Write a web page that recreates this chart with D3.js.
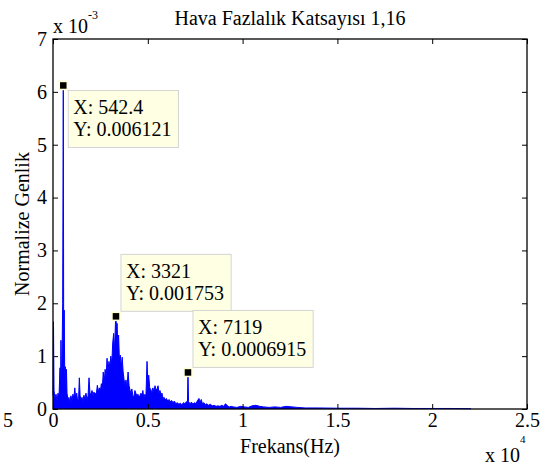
<!DOCTYPE html>
<html>
<head>
<meta charset="utf-8">
<script src="https://cdn.jsdelivr.net/npm/d3@7"></script>
<style>
  body { margin: 0; background: #fff; }
  svg text { font-family: 'Liberation Serif', 'Times New Roman', Tinos, 'DejaVu Serif', serif; }
</style>
</head>
<body>
<div id="chart"></div>
<script>
// spectrum: frequency (Hz) and amplitude (x 1e-3)
const freqHz = [
  0, 25, 55, 105, 160, 210, 265, 315, 370, 395, 420, 450, 475, 510, 542.4, 565, 590, 620, 650, 680,
  710, 740, 790, 840, 890, 945, 1000, 1050, 1100, 1150, 1200, 1250, 1300, 1350, 1390, 1430, 1480, 1530, 1580, 1630,
  1680, 1740, 1800, 1850, 1900, 1950, 2000, 2060, 2110, 2160, 2210, 2260, 2290, 2340, 2390, 2440, 2500, 2550, 2600, 2650,
  2700, 2750, 2800, 2850, 2900, 2950, 3000, 3050, 3100, 3150, 3200, 3250, 3290, 3321, 3350, 3380, 3420, 3460, 3500, 3550,
  3600, 3650, 3700, 3750, 3800, 3850, 3900, 3960, 4010, 4060, 4110, 4160, 4210, 4260, 4320, 4370, 4420, 4480, 4530, 4580,
  4640, 4690, 4740, 4790, 4850, 4900, 4960, 5000, 5050, 5100, 5160, 5210, 5270, 5320, 5380, 5430, 5490, 5540, 5590, 5640,
  5700, 5750, 5800, 5860, 5920, 5980, 6050, 6120, 6190, 6260, 6330, 6400, 6480, 6560, 6640, 6720, 6800, 6880, 6960, 7040,
  7090, 7119, 7150, 7220, 7300, 7380, 7460, 7540, 7620, 7700, 7760, 7820, 7880, 7960, 8040, 8120, 8200, 8300, 8400, 8500,
  8600, 8700, 8800, 8900, 9000, 9100, 9200, 9300, 9400, 9500, 9700, 9900, 10100, 10300, 10500, 10700, 10900, 11100, 11400, 11700,
  12000, 12300, 12600, 12900, 13300, 14000, 15000, 16000, 17000, 18000, 19000, 20000, 21000, 22050
];
const amplitude = [
  0.25, 1.65, 0.35, 0.20, 0.28, 0.15, 0.30, 0.22, 0.78, 0.30, 1.30, 0.45, 0.90, 2.00, 6.121, 1.20, 1.87, 0.60, 0.80, 0.45,
  0.75, 0.30, 0.17, 0.22, 0.12, 0.25, 0.15, 0.28, 0.20, 0.40, 0.18, 0.30, 0.15, 0.20, 0.59, 0.25, 0.18, 0.22, 0.14, 0.26,
  0.20, 0.30, 0.18, 0.25, 0.59, 0.30, 0.28, 0.35, 0.25, 0.32, 0.28, 0.30, 0.30, 0.45, 0.32, 0.40, 0.35, 0.48, 0.38, 0.70,
  0.50, 0.75, 0.60, 0.96, 0.70, 0.90, 0.80, 1.00, 0.85, 1.25, 1.43, 1.10, 1.60, 1.753, 1.50, 1.62, 1.20, 1.40, 0.95, 1.02,
  0.80, 0.98, 0.70, 0.55, 0.45, 0.55, 0.40, 0.70, 0.45, 0.36, 0.30, 0.38, 0.25, 0.22, 0.35, 0.30, 0.25, 0.28, 0.22, 0.25,
  0.30, 0.25, 0.35, 0.20, 0.28, 0.22, 0.90, 0.50, 0.64, 0.40, 0.37, 0.30, 0.40, 0.32, 0.44, 0.36, 0.38, 0.44, 0.30, 0.35,
  0.28, 0.30, 0.20, 0.22, 0.17, 0.20, 0.15, 0.18, 0.14, 0.16, 0.12, 0.15, 0.10, 0.12, 0.09, 0.11, 0.08, 0.12, 0.10, 0.14,
  0.12, 0.6915, 0.14, 0.10, 0.13, 0.09, 0.12, 0.10, 0.16, 0.20, 0.13, 0.18, 0.10, 0.12, 0.08, 0.10, 0.07, 0.09, 0.06, 0.07,
  0.05, 0.06, 0.05, 0.07, 0.05, 0.10, 0.06, 0.04, 0.05, 0.04, 0.03, 0.05, 0.04, 0.03, 0.06, 0.07, 0.05, 0.04, 0.03, 0.04,
  0.03, 0.05, 0.04, 0.03, 0.02, 0.02, 0.015, 0.015, 0.01, 0.015, 0.01, 0.01, 0.01, 0.005
];

// data tips
const tipX = [542.4, 3321, 7119];
const tipY = [0.006121, 0.001753, 0.0006915];
const tipXText = ['X: 542.4', 'X: 3321', 'X: 7119'];
const tipYText = ['Y: 0.006121', 'Y: 0.001753', 'Y: 0.0006915'];
const tipBelow = [true, false, false];

const xTicks = [0, 5000, 10000, 15000, 20000, 25000];
const yTicks = [0, 0.001, 0.002, 0.003, 0.004, 0.005, 0.006, 0.007];

const config = {
  width: 543,
  height: 466,
  padding: { left: 53, top: 39, right: 16, bottom: 57 }
};

const W = config.width, H = config.height, P = config.padding;
const FONT = "'Liberation Serif', 'Times New Roman', Tinos, 'DejaVu Serif', serif";
const fs = 20;

const svg = d3.select('#chart').append('svg')
  .attr('width', W)
  .attr('height', H)
  .attr('font-family', FONT);

const xscale = d3.scaleLinear().domain([0, 25000]).range([P.left, W - P.right]);
const yscale = d3.scaleLinear().domain([0, 0.007]).range([H - P.bottom, P.top]);

const pts = freqHz.map((f, i) => ({ f: f, v: amplitude[i] / 1000 }));

// spectrum
svg.append('path')
  .datum(pts)
  .attr('d', d3.area().x(d => xscale(d.f)).y0(yscale(0)).y1(d => yscale(d.v)))
  .attr('fill', '#0000ff');
svg.append('path')
  .datum(pts)
  .attr('d', d3.line().x(d => xscale(d.f)).y(d => yscale(d.v)))
  .attr('fill', 'none')
  .attr('stroke', '#0000ff')
  .attr('stroke-width', 1);

// axes, ticks pointing inward
const axBottom = svg.append('g')
  .attr('transform', `translate(0,${yscale(0)})`)
  .call(d3.axisBottom(xscale).tickValues(xTicks).tickSizeInner(-5).tickSizeOuter(0).tickPadding(4)
    .tickFormat(d => String(d / 10000)));
const axLeft = svg.append('g')
  .attr('transform', `translate(${xscale(0)},0)`)
  .call(d3.axisLeft(yscale).tickValues(yTicks).tickSizeInner(-5).tickSizeOuter(0).tickPadding(6)
    .tickFormat(d => String(Math.round(d * 1000))));
const axTop = svg.append('g')
  .attr('transform', `translate(0,${yscale(0.007)})`)
  .call(d3.axisTop(xscale).tickValues(xTicks).tickSizeInner(-5).tickSizeOuter(0).tickFormat(''));
const axRight = svg.append('g')
  .attr('transform', `translate(${xscale(25000)},0)`)
  .call(d3.axisRight(yscale).tickValues(yTicks).tickSizeInner(-5).tickSizeOuter(0).tickFormat(''));

[axBottom, axLeft, axTop, axRight].forEach(g => {
  g.attr('font-family', FONT).attr('font-size', fs);
  g.select('.domain').remove();
  g.selectAll('line').attr('stroke', '#000');
  g.selectAll('text').attr('fill', '#000');
});

svg.append('rect')
  .attr('x', xscale(0))
  .attr('y', yscale(0.007))
  .attr('width', xscale(25000) - xscale(0))
  .attr('height', yscale(0) - yscale(0.007))
  .attr('fill', 'none')
  .attr('stroke', '#000')
  .attr('stroke-width', 1.3);

// stray label left of the x axis
svg.append('text').attr('x', 8).attr('y', 427).attr('text-anchor', 'middle')
  .attr('font-size', fs).text('5');

// exponent labels
const ex1 = svg.append('text').attr('x', xscale(0)).attr('y', 33).attr('font-size', fs);
ex1.append('tspan').text('x 10');
ex1.append('tspan').attr('dy', -14).attr('font-size', 12).text('-3');

const ex2 = svg.append('text').attr('x', 485).attr('y', 462).attr('font-size', fs);
ex2.append('tspan').text('x 10');
ex2.append('tspan').attr('dy', -19).attr('font-size', 11).text('4');

// titles
svg.append('text')
  .attr('x', (xscale(0) + xscale(25000)) / 2)
  .attr('y', 25)
  .attr('text-anchor', 'middle')
  .attr('font-size', fs)
  .text('Hava Fazlalık Katsayısı 1,16');

svg.append('text')
  .attr('x', (xscale(0) + xscale(25000)) / 2)
  .attr('y', 453)
  .attr('text-anchor', 'middle')
  .attr('font-size', fs)
  .text('Frekans(Hz)');

svg.append('text')
  .attr('transform', `translate(29,${(yscale(0) + yscale(0.007)) / 2}) rotate(-90)`)
  .attr('text-anchor', 'middle')
  .attr('font-size', fs)
  .text('Normalize Genlik');

// data tips
tipX.forEach((tx, i) => {
  const mx = xscale(tx), my = yscale(tipY[i]);
  const g = svg.append('g');
  const box = g.append('rect');
  const t1 = g.append('text').attr('font-size', fs).text(tipXText[i]);
  const t2 = g.append('text').attr('font-size', fs).text(tipYText[i]);
  const tw = Math.max(t1.node().getComputedTextLength(), t2.node().getComputedTextLength());
  const bw = tw + 12, bh = 57;
  const bx = mx + 5;
  const by = tipBelow[i] ? my + 5 : my - 5 - bh;
  box.attr('x', bx).attr('y', by).attr('width', bw).attr('height', bh)
    .attr('fill', '#ffffe3').attr('stroke', '#d4d4d4').attr('stroke-width', 1);
  t1.attr('x', bx + 5).attr('y', by + 24);
  t2.attr('x', bx + 5).attr('y', by + 46);
  g.append('rect')
    .attr('x', mx - 4).attr('y', my - 4).attr('width', 8).attr('height', 8)
    .attr('fill', '#000').attr('stroke', '#ffffd0').attr('stroke-width', 1.5);
});
</script>
</body>
</html>
